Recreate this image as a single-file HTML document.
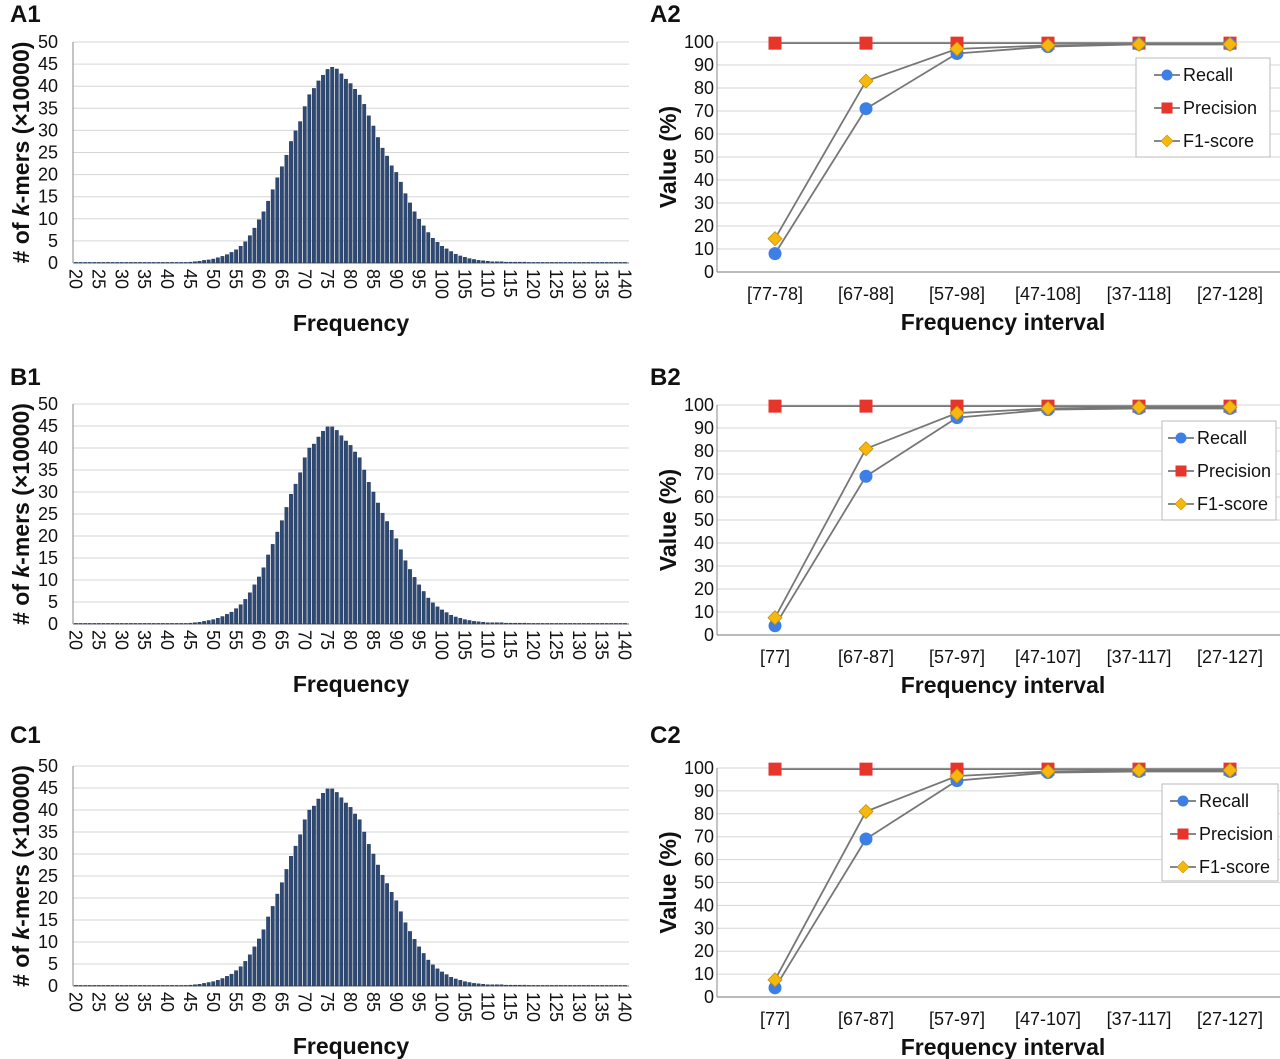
<!DOCTYPE html>
<html><head><meta charset="utf-8">
<style>
html,body{margin:0;padding:0;background:#fff;}
svg{display:block;font-family:"Liberation Sans",Arial,sans-serif;}
</style></head>
<body>
<svg id="fig" width="1280" height="1059" viewBox="0 0 1280 1059" xmlns="http://www.w3.org/2000/svg"></svg>
<script>
// ---- Histogram data (frequency 20..140), values x10000 ----
const freqCategories = [];
for (let f = 20; f <= 140; f++) freqCategories.push(f);
const histA = [0.05,0.05,0.05,0.05,0.05,0.05,0.05,0.05,0.05,0.05,0.05,0.05,0.05,0.05,0.05,0.05,0.05,0.05,0.05,0.05,0.1,0.1,0.1,0.1,0.1,
0.2,0.3,0.4,0.6,0.7,0.9,1.2,1.5,1.9,2.4,3.0,3.8,4.8,6.2,7.9,9.8,11.6,14.0,16.6,19.3,21.8,24.4,27.5,29.9,32.0,35.4,38.1,39.5,41.2,42.5,43.8,44.3,43.9,42.8,41.6,40.6,39.3,38.0,35.9,33.3,31.0,28.4,26.0,24.2,22.0,20.5,18.3,15.7,13.6,11.6,9.9,8.4,6.9,5.6,4.7,3.8,3.2,2.6,2.0,1.6,1.3,1.0,0.8,0.6,0.5,0.4,
0.3,0.3,0.3,0.2,0.2,0.2,0.2,0.2,0.1,0.1,0.1,0.1,0.1,0.1,0.1,0.1,0.1,0.1,0.1,0.1,0.1,0.1,0.1,0.1,0.1,0.1,0.1,0.1,0.1,0.1];
const histB = [0.05,0.05,0.05,0.05,0.05,0.05,0.05,0.05,0.05,0.05,0.05,0.05,0.05,0.05,0.05,0.05,0.05,0.05,0.05,0.05,0.1,0.1,0.1,0.1,0.1,
0.2,0.3,0.4,0.6,0.8,1.0,1.3,1.7,2.2,2.7,3.5,4.4,5.6,7.1,8.9,10.7,12.8,15.7,18.1,20.9,23.5,26.5,29.5,31.8,34.4,37.8,40.0,40.9,42.5,43.8,44.8,44.8,44.0,42.8,41.6,40.6,39.1,37.8,35.0,32.2,30.0,27.5,25.2,23.3,21.3,19.4,16.9,14.4,12.4,10.6,8.9,7.4,5.9,4.8,3.9,3.2,2.6,2.0,1.6,1.3,1.0,0.8,0.6,0.5,0.4,0.3,
0.3,0.3,0.3,0.2,0.2,0.2,0.2,0.2,0.1,0.1,0.1,0.1,0.1,0.1,0.1,0.1,0.1,0.1,0.1,0.1,0.1,0.1,0.1,0.1,0.1,0.1,0.1,0.1,0.1,0.1];
const histC = histB.slice();
const histTicks = [0,5,10,15,20,25,30,35,40,45,50];
const freqTickLabels = [20,25,30,35,40,45,50,55,60,65,70,75,80,85,90,95,100,105,110,115,120,125,130,135,140];

// ---- Line chart data ----
const intervalsA = ["[77-78]","[67-88]","[57-98]","[47-108]","[37-118]","[27-128]"];
const intervalsB = ["[77]","[67-87]","[57-97]","[47-107]","[37-117]","[27-127]"];
const recallA = [8,71,95,98,99,99];
const precisionA = [99.5,99.5,99.5,99.5,99.5,99.5];
const f1A = [14.5,83,97,98.5,99,99];
const recallB = [4,69,94.5,98,98.5,98.5];
const precisionB = [99.5,99.5,99.5,99.5,99.5,99.5];
const f1B = [7.5,81,96.5,98.5,99,99];
const recallC = [4,69,94.5,98,98.5,98.5];
const precisionC = [99.5,99.5,99.5,99.5,99.5,99.5];
const f1C = [7.5,81,96.5,98.5,99,99];
const valueTicks = [0,10,20,30,40,50,60,70,80,90,100];

const NS = "http://www.w3.org/2000/svg";
const svg = document.getElementById('fig');
function mk(tag, attrs, parent, text){
  const e = document.createElementNS(NS, tag);
  for (const k in attrs) e.setAttribute(k, attrs[k]);
  if (text !== undefined) e.textContent = text;
  (parent || svg).appendChild(e);
  return e;
}

function panelLabel(txt, x, y){
  const t = mk('text',{x:x,y:y,'font-size':24,'font-weight':'bold',fill:'#111'},svg,txt);
  
  
}

function histogram(id, data, y0, y50){
  const g = mk('g',{});
  
  
  const left = 73, right = 629;
  const xFirst = 76, xLast = 625;
  const xs = f => xFirst + (f-20)*(xLast-xFirst)/120;
  const ys = v => y0 + (y50-y0)*v/50;
  histTicks.forEach(v=>{
    const l = mk('line',{x1:left,x2:right,y1:ys(v),y2:ys(v),stroke:v===0?'#777':'#d6d6d6','stroke-width':1},g);
    
    
    const t = mk('text',{x:left-15,y:ys(v)+6,'text-anchor':'end','font-size':18,fill:'#111'},g,v);
    
    
  });
  mk('line',{x1:left,x2:left,y1:y50,y2:y0,stroke:'#888'},g);
  freqCategories.forEach((f,i)=>{
    const v = data[i];
    const h = Math.max(ys(0)-ys(v),0.6);
    const b = mk('rect',{x:xs(f)-1.7,y:ys(0)-h,width:3.4,height:h,fill:'#2e4a74',stroke:'#1a2d4c','stroke-width':0.4},g);
    
    
  });
  freqTickLabels.forEach(f=>{
    const x = xs(f)-6.5, y = y0+6;
    const t = mk('text',{x:x,y:y,transform:`rotate(90 ${x} ${y})`,'font-size':18,fill:'#111'},g,f);
    
    
  });
  const xt = mk('text',{x:351,y:y0+68,'text-anchor':'middle','font-size':23,'font-weight':'bold',fill:'#111'},g,'Frequency');
  
  
  const cy = (y0+y50)/2, cx = 29;
  const yt = mk('text',{x:cx,y:cy,transform:`rotate(-90 ${cx} ${cy})`,'text-anchor':'middle','font-size':23,'font-weight':'bold',fill:'#111'},g);
  
  
  mk('tspan',{},yt,'# of ');
  mk('tspan',{'font-style':'italic'},yt,'k');
  mk('tspan',{},yt,'-mers (×10000)');
}

function lineChart(id, cats, rec, prec, f1, y0, y100, legend){
  const g = mk('g',{});
  
  
  const left = 717, right = 1280;
  const xs = i => 775 + i*91;
  const ys = v => y0 + (y100-y0)*v/100;
  valueTicks.forEach(v=>{
    const l = mk('line',{x1:left,x2:right,y1:ys(v),y2:ys(v),stroke:v===0?'#777':'#d6d6d6','stroke-width':1},g);
    
    
    const t = mk('text',{x:left-3,y:ys(v)+6,'text-anchor':'end','font-size':18,fill:'#111'},g,v);
    
    
  });
  mk('line',{x1:left,x2:left,y1:y100,y2:y0,stroke:'#888'},g);
  cats.forEach((c,i)=>{
    const t = mk('text',{x:xs(i),y:y0+28,'text-anchor':'middle','font-size':18,fill:'#111'},g,c);
    
    
  });
  const series = [
    {name:'precision',data:prec,shape:'sq',fill:'#e8352b',stroke:'#c0392b'},
    {name:'recall',data:rec,shape:'circ',fill:'#3d7fe6',stroke:'#2f64b8'},
    {name:'f1-score',data:f1,shape:'dia',fill:'#f6b80f',stroke:'#c99000'}
  ];
  series.forEach(s=>{
    const pts = s.data.map((v,i)=>xs(i)+','+ys(v)).join(' ');
    const pl = mk('polyline',{points:pts,fill:'none',stroke:'#777','stroke-width':1.8},g);
    
    
  });
  series.forEach(s=>{
    s.data.forEach((v,i)=>{
      const x = xs(i), y = ys(v);
      let m;
      if (s.shape==='sq') m = mk('rect',{x:x-6.5,y:y-6.5,width:13,height:13,fill:s.fill},g);
      else if (s.shape==='circ') m = mk('circle',{cx:x,cy:y,r:6.5,fill:s.fill},g);
      else m = mk('polygon',{points:`${x},${y-7} ${x+7},${y} ${x},${y+7} ${x-7},${y}`,fill:s.fill,stroke:s.stroke,'stroke-width':0.8},g);
      
      
    });
  });
  const xt = mk('text',{x:1003,y:y0+58,'text-anchor':'middle','font-size':23,'font-weight':'bold',fill:'#111'},g,'Frequency interval');
  
  
  const cy = (y0+y100)/2, cx = 676;
  const yt = mk('text',{x:cx,y:cy,transform:`rotate(-90 ${cx} ${cy})`,'text-anchor':'middle','font-size':23,'font-weight':'bold',fill:'#111'},g,'Value (%)');
  
  
  // legend
  const lg = mk('g',{},g);
  
  
  mk('rect',{x:legend.x,y:legend.y,width:legend.w,height:legend.h,fill:'#fff',stroke:'#bbb','stroke-width':1},lg);
  const entries = [
    {label:'Recall',shape:'circ',fill:'#3d7fe6'},
    {label:'Precision',shape:'sq',fill:'#e8352b'},
    {label:'F1-score',shape:'dia',fill:'#f6b80f'}
  ];
  entries.forEach((e,i)=>{
    const ey = legend.y + 17 + i*33;
    const mx = legend.x + legend.mo;
    const eg = mk('g',{},lg);
    
    
    mk('line',{x1:mx-13,x2:mx+13,y1:ey,y2:ey,stroke:'#777','stroke-width':1.8},eg);
    if (e.shape==='circ') mk('circle',{cx:mx,cy:ey,r:5.5,fill:e.fill},eg);
    else if (e.shape==='sq') mk('rect',{x:mx-5.5,y:ey-5.5,width:11,height:11,fill:e.fill},eg);
    else mk('polygon',{points:`${mx},${ey-6} ${mx+6},${ey} ${mx},${ey+6} ${mx-6},${ey}`,fill:e.fill,stroke:'#c99000','stroke-width':0.6},eg);
    mk('text',{x:mx+16,y:ey+6,'font-size':18,fill:'#111'},eg,e.label);
  });
}

panelLabel('A1',10,22); panelLabel('A2',650,22);
panelLabel('B1',10,385); panelLabel('B2',650,385);
panelLabel('C1',10,743); panelLabel('C2',650,743);

histogram('a1', histA, 263, 42);
histogram('b1', histB, 624, 404);
histogram('c1', histC, 986, 766);

lineChart('a2', intervalsA, recallA, precisionA, f1A, 272, 42, {x:1136,y:58,w:134,h:99,mo:31});
lineChart('b2', intervalsB, recallB, precisionB, f1B, 635, 405, {x:1162,y:421,w:114,h:99,mo:19});
lineChart('c2', intervalsB, recallC, precisionC, f1C, 997, 768, {x:1162,y:784,w:116,h:97,mo:21});
</script>
</body></html>
